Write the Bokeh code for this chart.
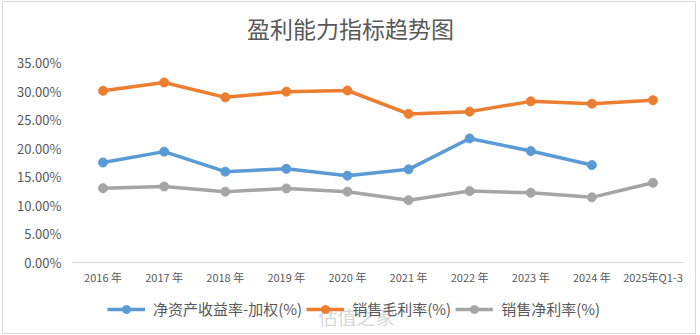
from bokeh.plotting import figure
from bokeh.layouts import column
from bokeh.models import FixedTicker, PrintfTickFormatter, Legend, LegendItem, Label, Range1d
from bokeh.embed import file_html
from bokeh.resources import INLINE

categories = ["2016 年", "2017 年", "2018 年", "2019 年", "2020 年",
              "2021 年", "2022 年", "2023 年", "2024 年", "2025年Q1-3"]
roe = [17.5, 19.4, 15.9, 16.4, 15.2, 16.3, 21.7, 19.5, 17.05]
gross_margin = [30.05, 31.5, 28.9, 29.9, 30.1, 26.0, 26.4, 28.2, 27.8, 28.4]
net_margin = [13.0, 13.3, 12.4, 12.95, 12.4, 10.9, 12.5, 12.2, 11.4, 13.95]
y_ticks = [0, 5, 10, 15, 20, 25, 30, 35]

title_text = "盈利能力指标趋势图"
series_names = ["净资产收益率-加权(%)", "销售毛利率(%)", "销售净利率(%)"]
colors = ["#5B9BD5", "#ED7D31", "#A5A5A5"]

FONT = "Noto Sans CJK SC"
TEXT_COLOR = "#595959"
W = 692


def strip(height):
    f = figure(width=W, height=height, x_range=Range1d(0, 1), y_range=Range1d(0, 1),
               output_backend="svg", toolbar_location=None, title=None,
               min_border_left=69, min_border_right=12,
               min_border_top=0, min_border_bottom=0)
    f.axis.visible = False
    f.grid.grid_line_color = None
    f.outline_line_color = None
    f.background_fill_color = "white"
    f.border_fill_color = "white"
    return f


# title strip
p0 = strip(45)
p0.add_layout(Label(x=278, y=20, x_units="screen", y_units="screen", text=title_text,
                    text_font=FONT, text_font_size="23px", text_color=TEXT_COLOR,
                    text_align="center", text_baseline="middle"))

# main chart
p = figure(x_range=categories, y_range=(0, 35), width=W, height=243,
           output_backend="svg", toolbar_location=None, title=None,
           min_border_left=69, min_border_right=12, min_border_top=15,
           min_border_bottom=28)
p.outline_line_color = None
p.background_fill_color = "white"
p.border_fill_color = "white"
p.xgrid.grid_line_color = None
p.ygrid.grid_line_color = None

p.yaxis.ticker = FixedTicker(ticks=y_ticks)
p.yaxis.formatter = PrintfTickFormatter(format="%.2f%%")
p.yaxis.axis_line_color = None
p.yaxis.major_tick_line_color = None
p.yaxis.minor_tick_line_color = None
p.yaxis.major_label_text_font = FONT
p.yaxis.major_label_text_font_size = "13px"
p.yaxis.major_label_text_color = TEXT_COLOR
p.yaxis.major_label_standoff = 5

p.xaxis.axis_line_color = "#d9d9d9"
p.xaxis.axis_line_width = 1
p.xaxis.major_tick_line_color = None
p.xaxis.minor_tick_line_color = None
p.xaxis.major_label_text_font = FONT
p.xaxis.major_label_text_font_size = "11px"
p.xaxis.major_label_text_color = TEXT_COLOR
p.xaxis.major_label_standoff = 0

all_series = [roe, gross_margin, net_margin]
for vals, c in zip(all_series, colors):
    xs = categories[:len(vals)]
    p.line(xs, vals, line_color=c, line_width=3.5)
    p.scatter(xs, vals, size=9, fill_color=c, line_color=c, marker="circle")

# legend strip (proxy renderers use the same series; they fall outside this strip's range)
p2 = strip(43)
items = []
for name, vals, c in zip(series_names, all_series, colors):
    idx = list(range(len(vals)))
    r1 = p2.line(idx, vals, line_color=c, line_width=3.5)
    r2 = p2.scatter(idx, vals, size=10, fill_color=c, line_color=c, marker="circle")
    items.append(LegendItem(label=name, renderers=[r1, r2]))

legend = Legend(items=items, orientation="horizontal", location=(35, 14),
                label_text_font=FONT, label_text_font_size="15px",
                label_text_color=TEXT_COLOR, glyph_width=38, glyph_height=20,
                label_standoff=8, spacing=4, padding=0, margin=0,
                border_line_color=None, background_fill_alpha=0)
p2.add_layout(legend)

p2.add_layout(Label(x=246, y=4, x_units="screen", y_units="screen", text="估值之家",
                    text_font=FONT, text_font_size="19px", text_color="#b0b0b0",
                    text_alpha=0.5))

layout = column(p0, p, p2, spacing=0)
layout.margin = (1, 0, 0, 2)
layout.styles = {"border": "1px solid #d9d9d9"}

open("out.html", "w").write(file_html(layout, INLINE))
